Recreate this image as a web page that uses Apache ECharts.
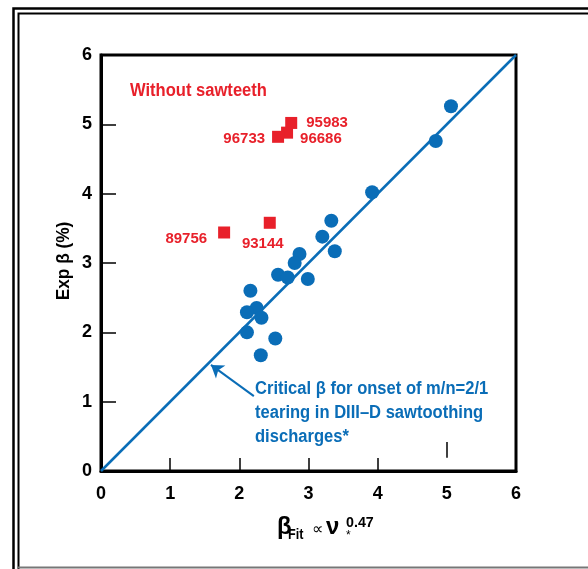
<!DOCTYPE html>
<html><head><meta charset="utf-8">
<script src="https://cdn.jsdelivr.net/npm/echarts@6/dist/echarts.min.js"></script>
<style>html,body{margin:0;padding:0;background:#fff}#c{width:588px;height:569px}</style>
</head><body><div id="c"></div>
<script>
// ---- data ----
const xTicks = [0, 1, 2, 3, 4, 5, 6];
const yTicks = [0, 1, 2, 3, 4, 5, 6];
const sawX = [5.06, 4.84, 3.92, 3.33, 3.20, 3.38, 2.87, 2.80, 2.56, 2.70, 2.99, 2.16, 2.25, 2.11, 2.32, 2.11, 2.52, 2.31];
const sawY = [5.26, 4.76, 4.02, 3.61, 3.38, 3.17, 3.13, 3.00, 2.83, 2.79, 2.77, 2.60, 2.35, 2.29, 2.21, 2.00, 1.91, 1.67];
const noSawIds = ['95983', '96686', '96733', '89756', '93144'];
const noSawX = [2.75, 2.69, 2.56, 1.78, 2.44];
const noSawY = [5.02, 4.88, 4.82, 3.44, 3.58];
const critX = [0, 6];
const critY = [0, 6];
const arrowFrom = [2.21, 1.08];
const arrowTo = [1.59, 1.53];

// ---- styles ----
const FONT = '"Liberation Sans Narrow", "Liberation Sans", Arial, sans-serif';
const BLUE = '#0a6db7';
const RED = '#e8202a';
const labelPlace = [
  {position: 'right', offset: [4, 0]},
  {position: 'right', offset: [2, 6]},
  {position: 'left', offset: [-2, 2]},
  {position: 'left', offset: [-6, 6]},
  {position: 'bottom', offset: [-7, 3]}
];

const chart = echarts.init(document.getElementById('c'), null, {renderer: 'canvas'});
const opt = {
  animation: false,
  backgroundColor: '#fff',
  grid: {left: 101, top: 55, right: 72, bottom: 98, show: true, borderColor: '#000', borderWidth: 3, backgroundColor: 'transparent'},
  xAxis: {
    type: 'value', min: xTicks[0], max: xTicks[xTicks.length - 1], interval: 1,
    splitLine: {show: false},
    axisLine: {show: true, lineStyle: {color: '#000', width: 3}},
    axisTick: {show: true, inside: true, length: 13, lineStyle: {color: '#000', width: 1.5}, customValues: [1, 2, 3, 4]},
    axisLabel: {color: '#000', fontFamily: FONT, fontWeight: 'bold', fontSize: 18, margin: 14, customValues: xTicks}
  },
  yAxis: {
    type: 'value', min: yTicks[0], max: yTicks[yTicks.length - 1], interval: 1,
    splitLine: {show: false},
    axisLine: {show: true, lineStyle: {color: '#000', width: 3}},
    axisTick: {show: true, inside: true, length: 15, lineStyle: {color: '#000', width: 1.5}, customValues: [1, 2, 3, 4, 5]},
    axisLabel: {color: '#000', fontFamily: FONT, fontWeight: 'bold', fontSize: 18, margin: 9, customValues: yTicks}
  },
  series: [
    {
      type: 'line', data: critX.map((x, i) => [x, critY[i]]), showSymbol: false, symbol: 'none',
      lineStyle: {color: BLUE, width: 2.5}, z: 2,
      markLine: {
        silent: true, symbol: ['none', 'arrow'], symbolSize: 12,
        lineStyle: {color: BLUE, width: 2, type: 'solid', opacity: 1}, label: {show: false},
        itemStyle: {color: BLUE},
        data: [
          [{coord: arrowFrom}, {coord: arrowTo}],
          [{coord: [5, 0.19], symbol: 'none', lineStyle: {color: '#000', width: 1.5}}, {coord: [5, 0.42], symbol: 'none'}]
        ]
      }
    },
    {
      type: 'scatter', data: sawX.map((x, i) => [x, sawY[i]]), symbol: 'circle', symbolSize: 14,
      itemStyle: {color: BLUE, opacity: 1}, z: 3
    },
    {
      type: 'scatter', symbol: 'rect', symbolSize: 12, itemStyle: {color: RED, opacity: 1}, z: 4,
      data: noSawX.map((x, i) => ({
        value: [x, noSawY[i]], name: noSawIds[i],
        label: Object.assign({show: true, formatter: noSawIds[i], color: RED, opacity: 1, fontFamily: FONT, fontWeight: 'bold', fontSize: 15}, labelPlace[i])
      }))
    }
  ],
  graphic: [
    {type: 'polyline', shape: {points: [[13.5, 569], [13.5, 8.5], [588, 8.5]]}, style: {stroke: '#000', lineWidth: 2.5, fill: null}},
    {type: 'polyline', shape: {points: [[18.5, 569], [18.5, 13.5], [588, 13.5]]}, style: {stroke: '#000', lineWidth: 2, fill: null}},
    {type: 'line', shape: {x1: 18, y1: 567.5, x2: 588, y2: 567.5}, style: {stroke: '#777', lineWidth: 2}},
    {type: 'text', x: 130, y: 82, scaleX: 0.92, style: {text: 'Without sawteeth', fill: RED, font: 'bold 18px ' + FONT}},
    {type: 'text', x: 255, y: 377, scaleX: 0.92, style: {text: 'Critical β for onset of m/n=2/1\ntearing in DIII–D sawtoothing\ndischarges*', fill: BLUE, font: 'bold 18px ' + FONT, lineHeight: 24}},
    {type: 'text', x: 64, y: 261, rotation: Math.PI / 2, scaleX: 0.96, style: {text: 'Exp β (%)', fill: '#000', font: 'bold 18px ' + FONT, align: 'center', verticalAlign: 'middle'}},
    {type: 'text', x: 277, y: 515, style: {text: 'β', fill: '#000', font: 'bold 24px ' + FONT}},
    {type: 'text', x: 288, y: 528, scaleX: 0.9, style: {text: 'Fit', fill: '#000', font: 'bold 14px ' + FONT}},
    {type: 'text', x: 312, y: 522, style: {text: '∝', fill: '#000', font: '16px ' + FONT}},
    {type: 'text', x: 326, y: 515, style: {text: 'ν', fill: '#000', font: 'bold 24px ' + FONT}},
    {type: 'text', x: 346, y: 515, scaleX: 0.95, style: {text: '0.47', fill: '#000', font: 'bold 15px ' + FONT}},
    {type: 'text', x: 346, y: 530, style: {text: '*', fill: '#000', font: '12px ' + FONT}}
  ]
};
chart.setOption(opt);
</script></body></html>
